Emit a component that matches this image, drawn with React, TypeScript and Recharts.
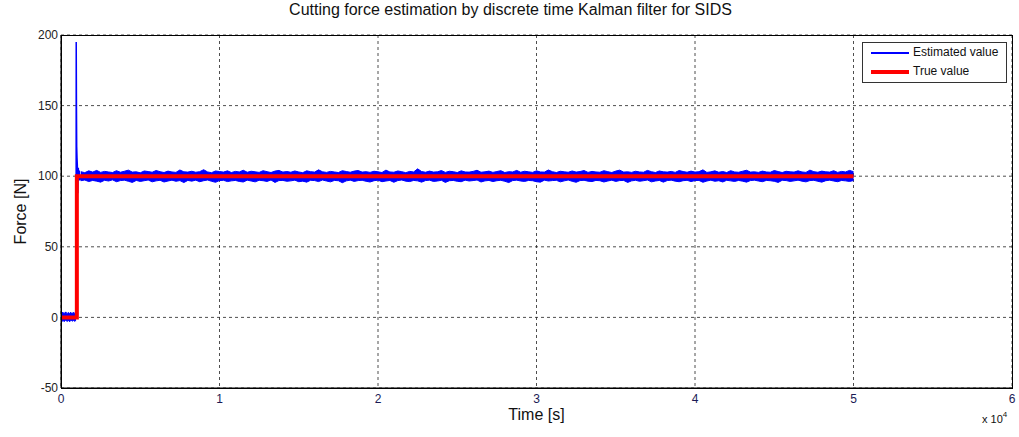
import { ComposedChart, Line, Area, XAxis, YAxis, CartesianGrid, Label } from "recharts";

// time ticks (s) and force ticks (N)
const xTicks = [0, 10000, 20000, 30000, 40000, 50000, 60000];
const yTicks = [-50, 0, 50, 100, 150, 200];

// estimated force before the step: upper / lower edge of the noise band, every 50 s
const preTimes = [0, 50, 100, 150, 200, 250, 300, 350, 400, 450, 500, 550, 600, 650, 700, 750, 800, 850, 900, 950];
const preHigh = [3.2, 2.6, 3.8, 2.9, 3.4, 2.7, 3.9, 3.0, 2.8, 3.5, 3.1, 2.6, 3.7, 2.9, 3.3, 2.8, 3.6, 3.0, 2.7, 3.4];
const preLow = [-2.4, -1.9, -2.8, -2.1, -3.0, -2.3, -1.8, -2.6, -2.9, -2.0, -2.5, -3.1, -2.2, -1.9, -2.7, -2.4, -2.0, -2.8, -2.3, -2.6];

// transient right after the step (spike and settle)
const transTimes = [950, 960, 975, 990, 1010, 1030, 1060, 1090, 1120, 1150, 1200, 1250];
const transValues = [1, 195, 150, 121, 113, 108, 88, 106, 97, 104, 97, 100];

// steady-state estimate: upper / lower edge of the noise band, every 250 s from 1250 s to 50000 s
const bandStart = 1250;
const bandStep = 250;
const bandHigh = [
  103.2, 102.5, 103.8, 102.9, 104.1, 102.7, 103.4, 103.0, 102.6, 103.9, 102.8, 103.5, 104.3, 102.9,
  103.1, 102.4, 103.7, 103.3, 102.8, 104.0, 103.2, 102.6, 103.6, 103.0, 102.7, 104.4, 103.1, 102.9,
  103.5, 102.8, 103.2, 104.6, 103.0, 102.5, 103.7, 103.3, 102.9, 103.8, 102.6, 103.4, 103.0, 104.2,
  102.8, 103.5, 103.1, 102.7, 103.9, 103.2, 102.6, 103.6, 104.1, 102.9, 103.3, 102.8, 103.7, 103.0,
  102.5, 103.8, 103.2, 102.9, 104.5, 103.1, 102.7, 103.4, 103.0, 102.6, 103.9, 103.3, 102.8, 103.6,
  104.0, 102.9, 103.2, 102.7, 103.5, 103.1, 102.6, 104.3, 103.0, 102.8, 103.7, 103.2, 102.5, 103.4,
  103.0, 105.2, 103.3, 102.8, 103.6, 102.9, 103.1, 104.0, 102.7, 103.5, 103.2, 102.6, 103.8, 103.0,
  102.9, 103.4, 104.2, 102.8, 103.1, 103.6, 102.7, 103.3, 103.9, 102.6, 103.2, 103.0, 104.1, 102.8,
  103.5, 103.1, 102.7, 103.8, 103.0, 102.9, 104.4, 103.2, 102.6, 103.5, 103.1, 102.8, 103.7, 102.9,
  103.3, 104.0, 102.7, 103.4, 103.0, 102.8, 103.9, 103.2, 102.6, 103.6, 104.3, 102.9, 103.1, 102.7,
  103.5, 103.0, 102.8, 104.1, 103.2, 102.6, 103.7, 103.1, 102.9, 103.4, 102.7, 104.0, 103.3, 102.8,
  103.6, 102.9, 103.2, 104.5, 102.7, 103.1, 103.8, 102.8, 103.3, 102.6, 103.9, 103.0, 102.8, 103.5,
  104.2, 102.9, 103.1, 102.7, 103.6, 103.0, 102.8, 104.0, 103.3, 102.6, 103.5, 103.1, 102.9, 103.8,
  103.0, 102.7, 104.3, 103.2, 102.8, 103.6, 103.1, 102.9, 103.9, 102.7, 103.4, 103.0, 104.1, 103.2,
];
const bandLow = [
  96.8, 97.3, 96.2, 97.0, 96.5, 95.8, 97.1, 96.6, 97.4, 96.1, 96.9, 97.2, 96.4, 95.6,
  97.0, 96.3, 96.8, 97.3, 96.0, 96.7, 97.1, 95.9, 96.6, 97.2, 96.4, 96.9, 95.5, 97.0,
  96.5, 97.2, 96.1, 96.8, 97.3, 96.4, 95.7, 96.9, 97.1, 96.2, 96.7, 97.0, 96.3, 95.9,
  97.2, 96.6, 96.0, 97.1, 96.8, 96.3, 97.3, 95.6, 96.9, 97.0, 96.4, 96.7, 97.2, 96.1,
  96.5, 95.8, 97.1, 96.9, 96.2, 97.3, 96.6, 96.0, 97.0, 96.8, 95.4, 96.7, 97.2, 96.3,
  96.9, 97.1, 96.4, 95.9, 96.8, 97.2, 96.1, 96.6, 97.0, 95.7, 96.9, 97.3, 96.5, 96.2,
  97.0, 96.7, 95.8, 96.9, 97.2, 96.3, 96.6, 97.1, 95.6, 96.8, 97.0, 96.4, 96.1, 97.2,
  96.6, 96.9, 97.3, 95.9, 96.7, 97.0, 96.2, 96.8, 97.1, 96.4, 95.5, 96.9, 97.2, 96.6,
  96.3, 97.0, 96.8, 96.1, 95.8, 97.2, 96.6, 96.9, 97.1, 96.0, 96.7, 97.3, 96.4, 95.7,
  96.9, 97.1, 96.5, 96.2, 97.0, 96.8, 95.9, 96.6, 97.2, 96.3, 96.9, 97.0, 95.6, 96.7,
  97.1, 96.4, 96.8, 97.3, 96.0, 96.6, 97.0, 95.8, 96.9, 97.2, 96.5, 96.1, 96.8, 97.1,
  96.2, 96.9, 97.0, 95.7, 96.6, 97.2, 96.4, 96.8, 95.9, 97.1, 96.7, 96.3, 97.0, 96.5,
  95.8, 96.9, 97.2, 96.6, 96.1, 97.0, 96.8, 96.4, 95.6, 97.1, 96.9, 96.3, 96.7, 97.2,
  96.5, 96.0, 96.9, 97.1, 96.4, 95.8, 96.8, 97.2, 96.6, 96.1, 97.0, 96.7, 96.3, 96.9,
];

// true force: step from 0 to 100 N
const trueTimes = [0, 1000, 1000, 50000];
const trueValues = [0, 0, 100, 100];

const preBand = preTimes.map((t, i) => ({ t, range: [preLow[i], preHigh[i]] }));
const transient = transTimes.map((t, i) => ({ t, v: transValues[i] }));
const steadyBand = bandHigh.map((hi, i) => ({ t: bandStart + i * bandStep, range: [bandLow[i], hi] }));
const trueData = trueTimes.map((t, i) => ({ t, v: trueValues[i] }));

const font = "'Liberation Sans', Arial, sans-serif";
const blue = "#0000ff";

export default function App() {
  return (
    <div style={{ position: "absolute", left: 0, top: 0, width: 1019, height: 437, background: "#fff", fontFamily: font }}>
      <div style={{ position: "absolute", left: 0, width: 1021, top: 1, textAlign: "center", fontSize: 16, color: "#111" }}>
        Cutting force estimation by discrete time Kalman filter for SIDS
      </div>

      <ComposedChart width={1019} height={437} margin={{ top: 35, right: 7, bottom: 0, left: 0 }}>
        <CartesianGrid stroke="#222" strokeDasharray="3 3" strokeWidth={0.8} />
        <XAxis
          dataKey="t"
          type="number"
          domain={[0, 60000]}
          ticks={xTicks}
          tickFormatter={(v: number) => String(v / 10000)}
          allowDuplicatedCategory={false}
          stroke="#000"
          tickLine={false}
          tickSize={4}
          tickMargin={2}
          height={49}
          tick={{ fill: "#1a1a55", fontSize: 12, fontFamily: font }}
        >
          <Label value="Time [s]" position="insideBottom" offset={17} style={{ fontSize: 16, fill: "#111", fontFamily: font }} />
        </XAxis>
        <YAxis
          type="number"
          domain={[-50, 200]}
          ticks={yTicks}
          stroke="#000"
          tickLine={false}
          tickSize={2}
          tickMargin={1}
          width={61}
          tick={{ fill: "#222", fontSize: 12, fontFamily: font }}
        >
          <Label value="Force [N]" angle={-90} position="insideLeft" offset={20} style={{ fontSize: 16, fill: "#111", fontFamily: font, textAnchor: "middle" }} />
        </YAxis>
        <Area data={preBand} dataKey="range" type="linear" stroke={blue} strokeWidth={1} fill={blue} fillOpacity={1} dot={false} activeDot={false} isAnimationActive={false} />
        <Area data={steadyBand} dataKey="range" type="linear" stroke={blue} strokeWidth={1} fill={blue} fillOpacity={1} dot={false} activeDot={false} isAnimationActive={false} />
        <Line data={transient} dataKey="v" type="linear" stroke={blue} strokeWidth={1.5} dot={false} isAnimationActive={false} />
        <Line data={trueData} dataKey="v" type="linear" stroke="#ff0000" strokeWidth={4} dot={false} isAnimationActive={false} />
      </ComposedChart>

      {/* axes box */}
      <div style={{ position: "absolute", left: 61, top: 35, width: 950, height: 352, border: "1px solid #000", pointerEvents: "none" }} />

      {/* legend */}
      <div style={{ position: "absolute", left: 862, top: 42, width: 143, height: 39, border: "1px solid #333", background: "#fff", fontSize: 12, color: "#111" }}>
        <div style={{ position: "absolute", left: 8, top: 9, width: 38, height: 2, background: blue }} />
        <div style={{ position: "absolute", left: 50, top: 2 }}>Estimated value</div>
        <div style={{ position: "absolute", left: 8, top: 27, width: 38, height: 4, background: "#ff0000" }} />
        <div style={{ position: "absolute", left: 50, top: 21 }}>True value</div>
      </div>

      {/* exponent of the time axis */}
      <div style={{ position: "absolute", left: 982, top: 413, fontSize: 11, color: "#111" }}>
        x 10<sup style={{ fontSize: 8, verticalAlign: "top", position: "relative", top: -3 }}>4</sup>
      </div>
    </div>
  );
}
